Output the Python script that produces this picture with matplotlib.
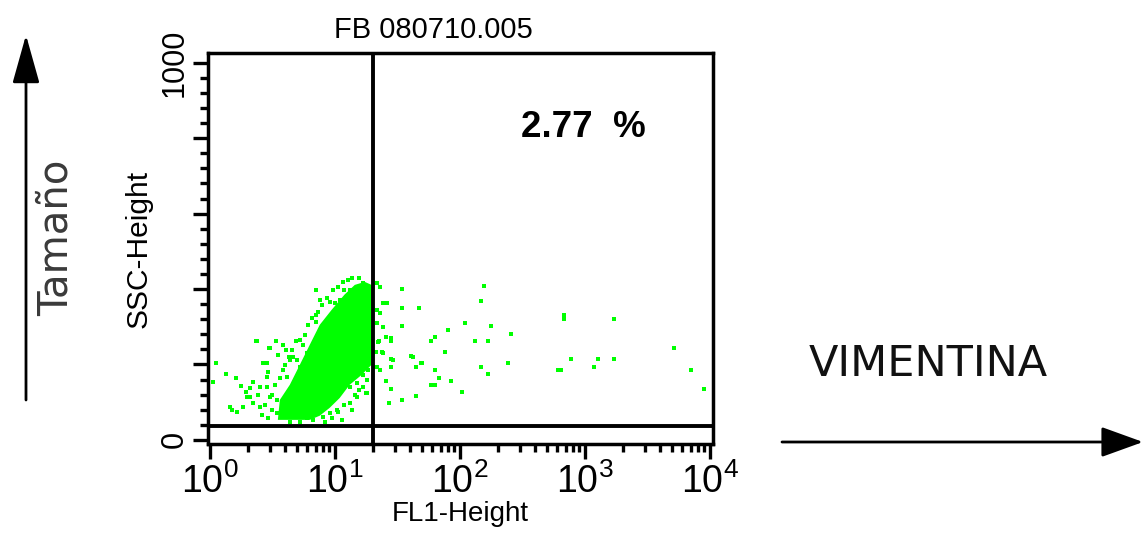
import matplotlib
matplotlib.use("Agg")
import matplotlib.pyplot as plt
from matplotlib.ticker import FixedLocator, NullFormatter

plt.rcParams['font.family'] = ['Liberation Sans', 'DejaVu Sans']
plt.rcParams['mathtext.fontset'] = 'custom'
plt.rcParams['mathtext.rm'] = 'Liberation Sans'

# dense core of the population (FL1, SSC) - outline
core_fl1 = [3.49, 3.62, 4.35, 5.23, 6.28, 7.55, 9.41, 11.9, 14.4, 17.3,
            19.6, 19.6, 16.3, 13.1, 10.9, 9.07, 7.55, 6.28]
core_ssc = [53, 106, 146, 199, 252, 305, 345, 385, 411, 419,
            411, 199, 172, 146, 111, 85, 64, 53]

# scattered events left of the gate
left_fl1 = [1.12, 1.06, 1.34, 1.61, 1.44, 1.50, 1.64, 1.97, 2.08, 2.20, 2.33, 2.96, 3.36, 3.83, 4.86,
            5.52, 7.02, 7.02, 7.02, 9.07, 9.95, 13.8, 13.1, 14.9, 4.27, 4.60, 2.65, 2.85, 2.08, 2.20,
            2.51, 2.85, 2.85, 3.43, 3.43, 3.83, 4.12, 4.95, 5.23, 5.94, 7.98, 9.07, 10.9, 11.5, 14.9,
            16.6, 17.9, 13.1, 14.9, 16.6, 14.9, 13.1, 10.3, 9.07, 7.98, 6.64, 5.94, 17.9, 17.9, 1.83,
            2.51, 3.01, 17.6, 2.37, 3.01,
            3.12, 3.30, 3.62, 3.97, 4.35, 4.51, 5.23, 5.73, 6.05, 6.52, 7.28, 7.83, 8.59, 9.59, 10.5,
            11.5, 12.6, 15.7, 2.75, 2.60, 2.90, 3.12, 2.42, 1.94, 1.77, 2.90, 3.49, 4.04, 7.55, 11.9,
            11.9, 10.5, 9.41, 8.27, 14.4, 15.7, 16.9, 18.2, 13.6, 11.3, 5.23, 4.35]
left_ssc = [204, 154, 175, 164, 88, 80, 74, 114, 138, 154, 263, 244, 263, 252, 263,
            252, 398, 332, 313, 366, 363, 430, 398, 406, 220, 220, 204, 204, 114, 98,
            88, 167, 141, 106, 72, 186, 167, 212, 194, 231, 300, 292, 371, 345, 390,
            416, 398, 141, 151, 141, 114, 98, 80, 72, 61, 53, 58, 159, 125, 88,
            141, 114, 125, 263, 244,
            119, 146, 164, 199, 212, 239, 265, 279, 305, 324, 340, 358, 377, 398, 406,
            419, 424, 430, 93, 66, 58, 80, 119, 127, 143, 180, 225, 239, 371, 398,
            93, 74, 58, 48, 119, 133, 172, 186, 80, 53, 48, 48]

# events right of the gate (2.77 %)
right_fl1 = [21.5, 22.7, 24.0, 25.9, 21.5, 22.7, 21.5, 24.0, 21.9, 24.0, 21.5, 22.7, 28.9,
             34.1, 34.1, 46.6, 34.1, 157, 148, 110, 178, 80.8, 257, 63.6, 59.1, 133, 169,
             28.3, 28.3, 25.4, 22.3, 76.4, 40.9, 49.2, 28.3, 28.3, 44.1, 148, 243, 63.6,
             67.3, 169, 59.1, 63.6, 85.4, 25.4, 28.3, 103, 34.1, 44.1, 26.8, 681, 681,
             1708, 774, 1273, 1708, 1183, 610, 644, 5140, 7030, 8920, 23.6, 21.1, 21.1,
             41.7, 50.1]
right_ssc = [416, 406, 363, 363, 345, 337, 310, 300, 260, 231, 194, 186, 212,
             401, 350, 350, 302, 408, 369, 310, 302, 292, 281, 273, 263, 263, 263,
             271, 263, 273, 263, 233, 223, 204, 215, 194, 194, 194, 204, 186,
             164, 175, 146, 146, 156, 156, 135, 127, 106, 117, 98, 332, 321,
             321, 215, 215, 215, 194, 186, 186, 244, 186, 135, 233, 233, 194,
             220, 204]

gate_fl1 = 20
gate_ssc = 37
y_ticks = [0, 200, 400, 600, 800, 1000]
y_labels = ['0', '', '', '', '', '1000']
x_ticks = [1, 10, 100, 1000, 10000]
x_labels = [r'$\mathregular{10^{0}}$', r'$\mathregular{10^{1}}$', r'$\mathregular{10^{2}}$',
            r'$\mathregular{10^{3}}$', r'$\mathregular{10^{4}}$']

green = '#00ff00'

fig = plt.figure(figsize=(11.44, 5.37), dpi=100)
ax = fig.add_axes([208/1144, 1-444/537, 505/1144, 391/537])

ax.fill(core_fl1, core_ssc, color=green, lw=0, zorder=2)
ax.scatter(left_fl1, left_ssc, s=10, marker='s', color=green, linewidths=0, zorder=2)
ax.scatter(right_fl1, right_ssc, s=10, marker='s', color=green, linewidths=0, zorder=2)

ax.axvline(gate_fl1, color='black', lw=2.8, zorder=3)
ax.axhline(gate_ssc, color='black', lw=2.8, zorder=3)

ax.set_xscale('log')
ax.set_xlim(10**-0.016, 10**4.024)
ax.set_ylim(-11, 1026)

ax.set_xticks(x_ticks)
ax.set_xticklabels(x_labels, fontsize=27)
ax.xaxis.set_minor_locator(FixedLocator([m*10**d for d in range(4) for m in range(2, 10)]))
ax.xaxis.set_minor_formatter(NullFormatter())

ax.yaxis.set_major_locator(FixedLocator(y_ticks))
ax.set_yticklabels(y_labels, fontsize=22, rotation=90, va='center')
ax.yaxis.set_minor_locator(FixedLocator(list(range(0, 1001, 40))))

ax.tick_params(which='major', length=11, width=2.4, direction='out', pad=2)
ax.tick_params(axis='x', which='major', pad=3)
ax.tick_params(which='minor', length=6, width=2.4, direction='out')
ax.tick_params(top=False, right=False)
for sp in ax.spines.values():
    sp.set_linewidth(2.5)

ax.set_xlabel('FL1-Height', fontsize=20, labelpad=0)
ax.set_ylabel('SSC-Height', fontsize=21.5, labelpad=5)
ax.text(0.446, 1.059, 'FB 080710.005', transform=ax.transAxes, fontsize=21,
        ha='center', va='center')
ax.text(309, 828, '2.77  %', fontsize=26.5, fontweight='bold', ha='left', va='center')

# outer annotations
fig.text(57/1144, 1-238/537, 'Tamaño', rotation=90, fontsize=29, family='DejaVu Sans',
         color='#3a3a3a', ha='center', va='center')
fig.text(928/1144, 1-364/537, 'VIMENTINA', fontsize=31, family='DejaVu Sans',
         color='#111111', ha='center', va='center')

ax.annotate('', xy=(26, 537-35), xytext=(26, 537-400), xycoords='figure pixels',
            textcoords='figure pixels', annotation_clip=False,
            arrowprops=dict(arrowstyle='-|>,head_length=1.5,head_width=0.42', mutation_scale=20,
                            lw=2, color='black', shrinkA=0, shrinkB=0))
ax.annotate('', xy=(1143, 537-442), xytext=(782, 537-442), xycoords='figure pixels',
            textcoords='figure pixels', annotation_clip=False,
            arrowprops=dict(arrowstyle='-|>,head_length=1.3,head_width=0.47', mutation_scale=20,
                            lw=2, color='black', shrinkA=0, shrinkB=0))

fig.savefig('out.png', dpi=100)
